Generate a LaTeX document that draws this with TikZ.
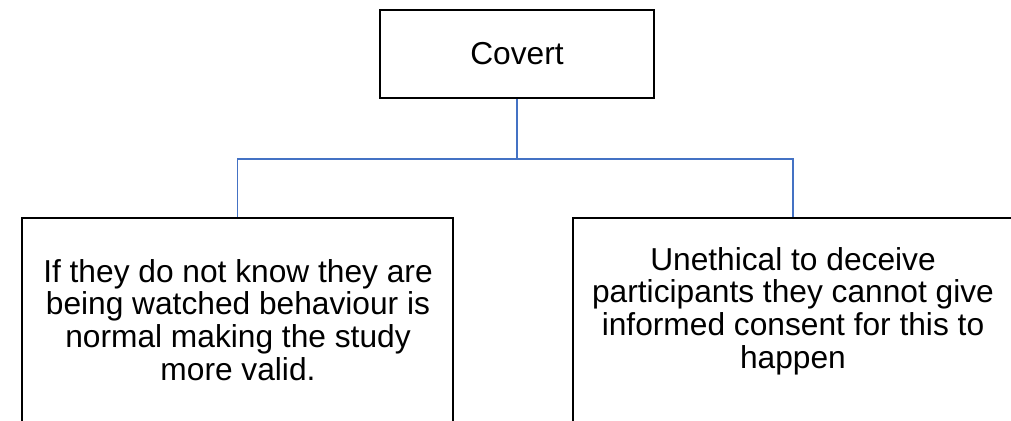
\documentclass[tikz,border=0pt]{standalone}
\usepackage{fontspec}
\setmainfont{Liberation Sans}
\definecolor{linkblue}{RGB}{68,114,196}
\begin{document}
\begin{tikzpicture}[x=1pt,y=-1pt,
  box/.style={draw=black,line width=2.2pt,fill=white,rectangle,inner sep=0pt},
  conn/.style={draw=linkblue,line width=1.6pt},
  label/.style={align=center,inner sep=0pt,anchor=base,
    font=\fontsize{31.7}{32.6}\selectfont}]
  \useasboundingbox (0,0) rectangle (1011,420);
  \clip (0,0) rectangle (1011,420);
  % boxes
  \node[box,minimum width=274pt,minimum height=88pt] (covert) at (517,54) {};
  \node[box,minimum width=431pt,minimum height=240pt] (left) at (237.5,338) {};
  \node[box,minimum width=440pt,minimum height=240pt] (right) at (793,338) {};
  % connectors
  \draw[conn] (covert.south) -- ++(0,60) coordinate (split);
  \draw[conn] (split) -| (left.north);
  \draw[conn] (split) -| (right.north);
  % texts (base anchor sits on the last line of a multi-line node)
  \node[label] (tcovert) at (517,64) {Covert};
  \node[label] (tleft) at (238,380) {If they do not know they are\\being watched behaviour is\\normal making the study\\more valid.};
  \node[label] (tright) at (793,368) {Unethical to deceive\\participants they cannot give\\informed consent for this to\\happen};
\end{tikzpicture}
\end{document}
